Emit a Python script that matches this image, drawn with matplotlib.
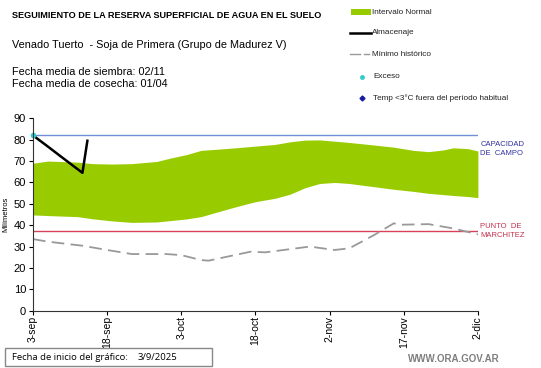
import matplotlib
matplotlib.use("Agg")
import matplotlib.pyplot as plt
from matplotlib.patches import Rectangle
from matplotlib.lines import Line2D

plt.rcParams['font.family'] = ['Liberation Sans', 'DejaVu Sans']

# days since 3-sep
tick_days = [0, 15, 30, 45, 60, 75, 90]
tick_labels = ["3-sep", "18-sep", "3-oct", "18-oct", "2-nov", "17-nov", "2-dic"]

# normal interval (green band)
band_days = [0, 3, 9, 12, 16, 20, 25, 28, 31, 34, 37, 41, 45, 49, 52, 55, 58,
             61, 64, 69, 73, 77, 80, 83, 85, 88, 90]
band_upper = [69, 70, 69.5, 68.8, 68.6, 68.8, 69.8, 71.5, 73, 75, 75.5, 76.2, 77,
              77.8, 79, 79.8, 79.9, 79.3, 78.7, 77.5, 76.5, 75, 74.4, 75.2, 76.2,
              75.8, 74.7]
band_lower = [44.8, 44.5, 44, 43, 42, 41.3, 41.5, 42.2, 42.9, 44, 46, 48.6, 51,
              52.6, 54.5, 57.5, 59.5, 60, 59.5, 58, 56.8, 55.8, 54.9, 54.3, 53.9,
              53.4, 52.9]

# historical minimum
min_days = [0, 3, 10, 15, 20, 27, 30, 34, 35.5, 44, 47, 56, 61, 64, 69, 73, 74,
            80, 85, 90]
min_vals = [33.5, 32.3, 30.4, 28.4, 26.5, 26.5, 26, 23.7, 23.4, 27.6, 27.3, 30,
            28.4, 29.2, 35.4, 40.9, 40.2, 40.5, 38.5, 35.7]

# storage (almacenaje)
alm_days = [0, 3, 6, 10, 11]
alm_vals = [82, 76.8, 71.5, 64.5, 79.5]

exceso_days = [0]
exceso_vals = [82]

capacidad_campo = 82.2
punto_marchitez = 37.3

fig = plt.figure(figsize=(5.41, 3.68), dpi=100)
ax = fig.add_axes([0.0610, 0.1557, 0.8224, 0.5228])

ax.fill_between(band_days, band_lower, band_upper, color="#99cc00", lw=0)
ax.axhline(capacidad_campo, color="#6f8fd8", lw=1)
ax.axhline(punto_marchitez, color="#d9415a", lw=1)
ax.plot(min_days, min_vals, color="#999999", lw=1.3, dashes=(7, 3.5))
ax.plot(alm_days, alm_vals, color="black", lw=1.8)
ax.plot(exceso_days, exceso_vals, "o", color="#33cccc", ms=3, clip_on=False)

ax.set_xlim(0, 90)
ax.set_ylim(0, 90)
ax.set_xticks(tick_days)
ax.set_xticklabels(tick_labels, rotation=90, fontsize=7.5)
ax.set_yticks(range(0, 91, 10))
ax.tick_params(axis="y", labelsize=8, length=3, pad=2)
ax.tick_params(axis="x", length=3, pad=1)
ax.spines["top"].set_visible(False)
ax.spines["right"].set_visible(False)
ax.spines["left"].set_color("#333333")
ax.spines["bottom"].set_color("#333333")
ax.set_ylabel("Milímetros", fontsize=5.5)
ax.yaxis.set_label_coords(-0.052, 0.5)

ax.text(1.005, capacidad_campo - 6.5, "CAPACIDAD\nDE  CAMPO", transform=ax.get_yaxis_transform(),
        color="#3030a0", fontsize=5.5, va="center", ha="left", linespacing=1.3)
ax.text(1.005, punto_marchitez, "PUNTO  DE\nMARCHITEZ", transform=ax.get_yaxis_transform(),
        color="#c0304a", fontsize=5.5, va="center", ha="left", linespacing=1.3)

# header texts
fig.text(12 / 541, 1 - 15 / 368, "SEGUIMIENTO DE LA RESERVA SUPERFICIAL DE AGUA EN EL SUELO",
         fontsize=6.6, fontweight="bold", va="center")
fig.text(12 / 541, 1 - 45 / 368, "Venado Tuerto  - Soja de Primera (Grupo de Madurez V)",
         fontsize=7.8, va="center")
fig.text(12 / 541, 1 - 72 / 368, "Fecha media de siembra: 02/11", fontsize=7.8, va="center")
fig.text(12 / 541, 1 - 84 / 368, "Fecha media de cosecha: 01/04", fontsize=7.8, va="center")

# legend drawn by hand
W, H = 541, 368
fig.add_artist(Rectangle((351 / W, 1 - 14.5 / H), 20 / W, 5 / H, transform=fig.transFigure,
                         color="#99cc00", lw=0))
fig.add_artist(Line2D([350 / W, 371 / W], [1 - 33 / H] * 2, transform=fig.transFigure,
                      color="black", lw=1.8))
fig.add_artist(Line2D([350 / W, 360 / W], [1 - 54 / H] * 2, transform=fig.transFigure,
                      color="#999999", lw=1))
fig.add_artist(Line2D([364 / W, 369 / W], [1 - 54 / H] * 2, transform=fig.transFigure,
                      color="#999999", lw=1))
fig.add_artist(Line2D([361.7 / W], [1 - 77 / H], transform=fig.transFigure,
                      marker="o", color="#33cccc", ms=2.5, lw=0))
fig.add_artist(Line2D([361.7 / W], [1 - 98 / H], transform=fig.transFigure,
                      marker="D", color="#1a1aa0", ms=2.5, lw=0))
leg_font = 5.9
fig.text(372 / W, 1 - 12 / H, "Intervalo Normal", fontsize=leg_font, va="center", color="#222222")
fig.text(372 / W, 1 - 33 / H, "Almacenaje", fontsize=leg_font, va="center", color="#222222")
fig.text(372 / W, 1 - 54 / H, "Mínimo histórico", fontsize=leg_font, va="center", color="#222222")
fig.text(373 / W, 1 - 77 / H, "Exceso", fontsize=leg_font, va="center", color="#222222")
fig.text(373 / W, 1 - 98 / H, "Temp <3°C fuera del período habitual", fontsize=leg_font,
         va="center", color="#222222")

# footer
fig.add_artist(Rectangle((5 / W, 1 - 366 / H), 207 / W, 18 / H, transform=fig.transFigure,
                         fill=False, edgecolor="#888888", lw=1))
fig.text(12 / W, 1 - 357 / H, "Fecha de inicio del gráfico:", fontsize=6.8, va="center",
         family=["Open Sans", "DejaVu Sans"])
fig.text(138 / W, 1 - 357 / H, "3/9/2025", fontsize=6.8, va="center",
         family=["Open Sans", "DejaVu Sans"])
fig.text(500 / W, 1 - 359 / H, "WWW.ORA.GOV.AR", fontsize=7, va="center", ha="right",
         color="#7f7f7f", fontweight="bold")

fig.savefig("out.png", dpi=100)
